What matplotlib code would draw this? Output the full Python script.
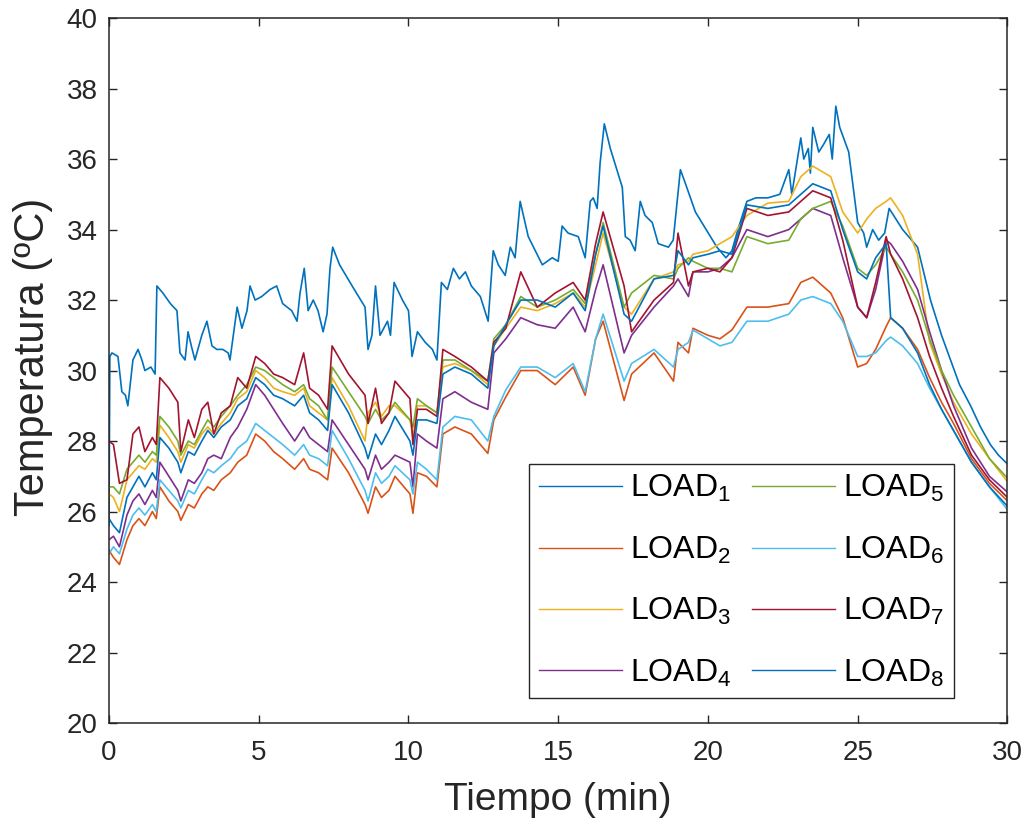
import numpy as np
import matplotlib
matplotlib.use("Agg")
import matplotlib.pyplot as plt

plt.rcParams['font.family'] = ['Liberation Sans', 'DejaVu Sans']
plt.rcParams['mathtext.fontset'] = 'custom'
plt.rcParams['mathtext.rm'] = 'Liberation Sans'
plt.rcParams['mathtext.it'] = 'Liberation Sans'
plt.rcParams['mathtext.bf'] = 'Liberation Sans'

# LOAD1 has its own (denser) time base
t_load1 = [0.0, 0.03, 0.1, 0.3, 0.43, 0.55, 0.63, 0.8, 0.97, 1.1, 1.2, 1.4, 1.54, 1.6, 1.8,
           2.05, 2.27, 2.37, 2.54, 2.64, 2.75, 2.87, 3.1, 3.27, 3.44, 3.6, 3.8, 3.98, 4.04,
           4.28, 4.44, 4.61, 4.71, 4.88, 5.1, 5.38, 5.6, 5.8, 6.1, 6.28, 6.38, 6.52, 6.65,
           6.82, 6.98, 7.15, 7.28, 7.38, 7.47, 7.7, 8.12, 8.55, 8.65, 8.78, 8.9, 9.05, 9.3,
           9.4, 9.52, 9.8, 10.0, 10.12, 10.3, 10.56, 10.8, 10.95, 11.1, 11.3, 11.5, 11.7,
           11.9, 12.1, 12.4, 12.66, 12.83, 13.0, 13.23, 13.4, 13.56, 13.73, 14.0, 14.47,
           14.8, 15.0, 15.13, 15.33, 15.67, 15.9, 16.07, 16.17, 16.3, 16.4, 16.54, 16.74,
           17.14, 17.24, 17.4, 17.57, 17.74, 17.9, 18.14, 18.34, 18.68, 18.84, 19.08, 19.25,
           19.58, 20.01, 20.3, 20.6, 20.8, 21.0, 21.3, 21.6, 22.0, 22.4, 22.7, 22.8, 23.1,
           23.2, 23.35, 23.42, 23.5, 23.7, 23.85, 24.05, 24.15, 24.27, 24.4, 24.7, 25.0,
           25.2, 25.3, 25.5, 25.7, 25.9, 26.05, 26.2, 26.5, 27.0, 27.43, 27.8, 28.1, 28.4,
           28.77, 29.1, 29.43, 29.7, 30.0]
load1 = [25.6, 30.4, 30.5, 30.4, 29.4, 29.3, 29.0, 30.3, 30.6, 30.3, 30.0, 30.1, 29.9, 32.4, 32.2,
         31.9, 31.7, 30.5, 30.3, 31.1, 30.7, 30.3, 31.0, 31.4, 30.7, 30.6, 30.6, 30.5, 30.3,
         31.8, 31.2, 31.7, 32.4, 32.0, 32.1, 32.3, 32.4, 31.9, 31.7, 31.4, 32.2, 32.9, 31.7,
         32.0, 31.7, 31.1, 31.6, 32.9, 33.5, 33.0, 32.4, 31.8, 30.6, 31.0, 32.4, 31.0, 31.4,
         31.0, 32.5, 32.0, 31.7, 30.4, 31.1, 30.8, 30.6, 30.3, 32.5, 32.3, 32.9, 32.6,
         32.8, 32.4, 32.1, 31.4, 33.4, 33.0, 32.7, 33.5, 33.2, 34.8, 33.8, 33.0,
         33.2, 33.1, 34.1, 33.9, 33.8, 33.2, 34.8, 34.9, 34.6, 35.9, 37.0, 36.3,
         35.2, 33.8, 33.7, 33.4, 34.8, 34.4, 34.2, 33.6, 33.5, 33.7, 35.7, 35.3,
         34.5, 33.9, 33.5, 33.2, 33.4, 34.0, 34.8, 34.9, 34.9, 35.0, 35.7, 35.0, 36.6,
         36.0, 36.3, 35.6, 36.9, 36.2, 36.4, 36.7, 36.0, 37.5, 36.9, 36.2, 34.2,
         33.9, 33.5, 34.0, 33.7, 33.9, 34.6, 34.4, 34.0, 33.5, 32.0, 31.0, 30.3, 29.6,
         29.0, 28.4, 27.9, 27.6, 27.35]

# shared time base for LOAD2..LOAD8
t_key = [0.0, 0.15, 0.35, 0.6, 0.8, 1.0, 1.2, 1.45, 1.58, 1.7, 2.0, 2.3, 2.4, 2.65, 2.85,
         3.1, 3.3, 3.5, 3.75, 4.05, 4.3, 4.6, 4.9, 5.2, 5.5, 5.8, 6.2, 6.5, 6.7, 7.0, 7.3,
         7.45, 8.0, 8.55, 8.65, 8.9, 9.1, 9.35, 9.55, 10.05, 10.15, 10.3, 10.6, 10.95,
         11.15, 11.55, 12.1, 12.65, 12.85, 13.25, 13.75, 14.3, 14.9, 15.5, 15.9, 16.25,
         16.5, 17.2, 17.45, 18.2, 18.85, 19.0, 19.35, 19.5, 20.0, 20.4, 20.8, 21.3, 22.0,
         22.7, 23.1, 23.5, 24.1, 24.5, 25.0, 25.3, 25.6, 25.95, 26.1, 26.5, 27.0, 27.4,
         27.8, 28.2, 28.8, 29.4, 30.0]

load2 = [24.9, 24.7, 24.5, 25.2, 25.6, 25.8, 25.6, 26.0, 25.8, 26.7, 26.3, 26.0, 25.75, 26.2, 26.1,
         26.5, 26.7, 26.6, 26.9, 27.1, 27.4, 27.6, 28.2, 28.0, 27.7, 27.5, 27.2, 27.5, 27.2, 27.1, 26.9,
         27.8, 27.1, 26.2, 25.95, 26.7, 26.4, 26.6, 27.0, 26.5, 25.95, 27.1, 27.0, 26.7,
         28.2, 28.4, 28.2, 27.65, 28.6, 29.25, 30.0, 30.0, 29.6, 30.1, 29.3, 30.9,
         31.4, 29.15, 29.9, 30.5, 29.7, 30.8, 30.5, 31.2, 31.0, 30.9, 31.15, 31.8, 31.8,
         31.9, 32.5, 32.65, 32.2, 31.5, 30.1, 30.2, 30.6, 31.25, 31.5, 31.2, 30.6, 29.8,
         29.1, 28.5, 27.5, 26.8, 26.3]

load3 = [26.5, 26.4, 26.0, 26.9, 27.1, 27.3, 27.2, 27.5, 27.4, 28.45, 28.1, 27.7, 27.4, 27.9, 27.8,
         28.2, 28.4, 28.2, 28.5, 28.8, 29.2, 29.4, 30.0, 29.8, 29.5, 29.4, 29.3, 29.5, 29.0, 28.8, 28.6,
         29.8, 29.0, 28.0, 28.8, 29.1, 28.7, 29.0, 29.0, 28.6, 28.1, 29.0, 29.0, 28.8,
         30.1, 30.2, 30.0, 29.6, 30.7, 31.2, 31.8, 31.7, 31.9, 32.2, 31.8, 33.0,
         33.9, 31.8, 31.6, 32.6, 32.8, 33.0, 33.1, 33.3, 33.4, 33.6, 33.8, 34.4, 34.75,
         34.8, 35.5, 35.8, 35.5, 34.5, 33.9, 34.3, 34.6, 34.8, 34.9, 34.4, 33.3, 30.8,
         29.9, 29.1, 28.2, 27.5, 26.85]

load4 = [25.2, 25.3, 25.0, 25.9, 26.3, 26.5, 26.2, 26.6, 26.4, 27.4, 27.0, 26.6, 26.3, 26.9, 26.8,
         27.1, 27.5, 27.6, 27.5, 28.1, 28.4, 28.9, 29.6, 29.3, 28.9, 28.5, 28.0, 28.4, 28.1, 27.9, 27.7,
         28.6, 27.9, 27.2, 26.9, 27.6, 27.2, 27.4, 27.6, 27.4, 26.7, 28.2, 28.0, 27.8,
         29.2, 29.4, 29.1, 28.9, 30.5, 30.9, 31.5, 31.3, 31.2, 31.8, 31.1, 32.3,
         33.0, 30.5, 31.0, 31.8, 32.4, 32.6, 32.1, 32.8, 32.8, 32.9, 33.2, 34.0, 33.8,
         34.0, 34.3, 34.6, 34.4, 33.2, 31.8, 31.5, 32.3, 33.7, 33.6, 33.1, 32.3, 31.1,
         30.0, 29.0, 27.8, 27.0, 26.55]

load5 = [26.7, 26.7, 26.5, 27.2, 27.4, 27.6, 27.4, 27.7, 27.6, 28.7, 28.4, 28.0, 27.6, 28.0, 27.9,
         28.3, 28.6, 28.4, 28.7, 29.0, 29.3, 29.6, 30.1, 30.0, 29.8, 29.6, 29.4, 29.6, 29.2, 29.0, 28.6,
         30.1, 29.4, 28.7, 28.5, 28.9, 28.6, 28.8, 29.1, 28.6, 28.4, 29.2, 29.0, 28.8,
         30.3, 30.3, 30.0, 29.7, 30.9, 31.3, 32.1, 31.8, 32.0, 32.3, 31.9, 33.3,
         34.2, 31.8, 32.2, 32.7, 32.6, 32.9, 33.2, 33.1, 32.9, 32.9, 32.8, 33.8, 33.6,
         33.7, 34.3, 34.6, 34.8, 34.1, 32.9, 32.7, 33.0, 33.5, 33.3, 32.8, 32.0, 30.9,
         30.0, 29.3, 28.4, 27.5, 26.95]

load6 = [24.8, 25.0, 24.8, 25.5, 25.9, 26.1, 25.9, 26.2, 26.0, 26.9, 26.6, 26.3, 26.1, 26.6, 26.5,
         26.9, 27.2, 27.1, 27.3, 27.5, 27.8, 28.0, 28.5, 28.3, 28.1, 27.9, 27.6, 27.9, 27.6, 27.5, 27.3,
         28.3, 27.5, 26.6, 26.3, 27.1, 26.8, 27.0, 27.3, 26.9, 26.5, 27.4, 27.2, 26.9,
         28.4, 28.7, 28.6, 28.0, 28.7, 29.45, 30.1, 30.1, 29.8, 30.2, 29.4, 30.9,
         31.6, 29.7, 30.2, 30.6, 30.1, 30.6, 30.8, 31.15, 30.9, 30.7, 30.8, 31.4, 31.4,
         31.6, 32.0, 32.1, 31.9, 31.4, 30.4, 30.4, 30.5, 30.85, 30.95, 30.7, 30.2, 29.5,
         28.9, 28.3, 27.4, 26.7, 26.05]

load7 = [28.0, 27.9, 26.8, 26.9, 28.2, 28.4, 27.7, 28.1, 27.9, 29.8, 29.5, 29.1, 27.7, 28.6, 28.1,
         28.9, 29.1, 28.2, 28.8, 29.0, 29.8, 29.5, 30.4, 30.2, 29.9, 29.8, 29.6, 30.5, 29.5, 29.3, 28.9,
         30.7, 29.9, 29.3, 28.5, 29.5, 28.5, 28.8, 29.7, 29.2, 27.9, 28.9, 28.9, 28.7,
         30.6, 30.4, 30.1, 29.7, 30.8, 31.2, 32.8, 31.8, 32.2, 32.5, 32.0, 33.6,
         34.5, 32.4, 31.1, 32.0, 32.5, 33.9, 32.4, 32.8, 32.9, 32.8, 33.2, 34.6, 34.4,
         34.5, 34.8, 35.1, 34.9, 33.7, 31.8, 31.5, 32.5, 33.8, 33.3, 32.6, 31.5, 30.4,
         29.5, 28.7, 27.6, 26.9, 26.4]

load8 = [25.8, 25.6, 25.4, 26.4, 26.7, 27.0, 26.7, 27.1, 26.9, 28.1, 27.8, 27.4, 27.1, 27.7, 27.6,
         28.0, 28.3, 28.1, 28.4, 28.6, 29.0, 29.2, 29.8, 29.6, 29.3, 29.2, 29.0, 29.3, 28.8, 28.6, 28.3,
         29.6, 28.8, 27.8, 27.5, 28.2, 27.9, 28.3, 28.7, 28.0, 27.6, 28.6, 28.6, 28.5,
         29.9, 30.1, 29.9, 29.5, 30.7, 31.3, 32.0, 32.0, 31.8, 32.2, 31.7, 33.3,
         34.1, 31.6, 31.4, 32.6, 32.7, 33.4, 33.0, 33.2, 33.3, 33.4, 33.3, 34.7, 34.6,
         34.7, 35.0, 35.3, 35.1, 34.0, 32.8, 32.6, 33.2, 33.6, 31.5, 31.2, 30.5, 29.6,
         28.9, 28.3, 27.4, 26.7, 26.15]

series = [(t_load1, load1), (t_key, load2), (t_key, load3), (t_key, load4),
          (t_key, load5), (t_key, load6), (t_key, load7), (t_key, load8)]
labels = [r'LOAD$_{%d}$' % (i + 1) for i in range(8)]
colors = ['#0072BD', '#D95319', '#EDB120', '#7E2F8E',
          '#77AC30', '#4DBEEE', '#A2142F', '#0072BD']

fig = plt.figure(figsize=(10.28, 8.22), dpi=100)
ax = fig.add_axes([0.106, 0.1204, 0.874, 0.8576])

for (t, y), c, lab in zip(series, colors, labels):
    ax.plot(t, y, color=c, lw=1.2, label=lab)

ax.set_xlim(0, 30)
ax.set_ylim(20, 40)
ax.set_xticks(np.arange(0, 31, 5))
ax.set_yticks(np.arange(20, 41, 2))

for s in ax.spines.values():
    s.set_color('#262626')
    s.set_linewidth(1.1)
ax.tick_params(direction='in', length=6, width=1.0, colors='#262626',
               labelsize=20, top=True, right=True)
ax.tick_params(axis='y', pad=8)
ax.tick_params(axis='x', pad=12)

ax.set_xlabel('Tiempo (min)', fontsize=28, color='#262626', labelpad=12)
ax.set_ylabel('Temperatura (ºC)', fontsize=30, color='#262626')
ax.yaxis.set_label_coords(-0.062, 0.52)

leg = ax.legend(ncol=2, loc='lower left', bbox_to_anchor=(0.468, 0.035),
                fontsize=23, frameon=True, fancybox=False, framealpha=1,
                edgecolor='#262626', handlelength=2.6, handletextpad=0.25,
                columnspacing=0.65, labelspacing=0.95, borderpad=0.3,
                borderaxespad=0)
leg.get_frame().set_linewidth(1.0)
for line in leg.get_lines():
    line.set_linewidth(1.0)

fig.savefig('out.png', dpi=100)
